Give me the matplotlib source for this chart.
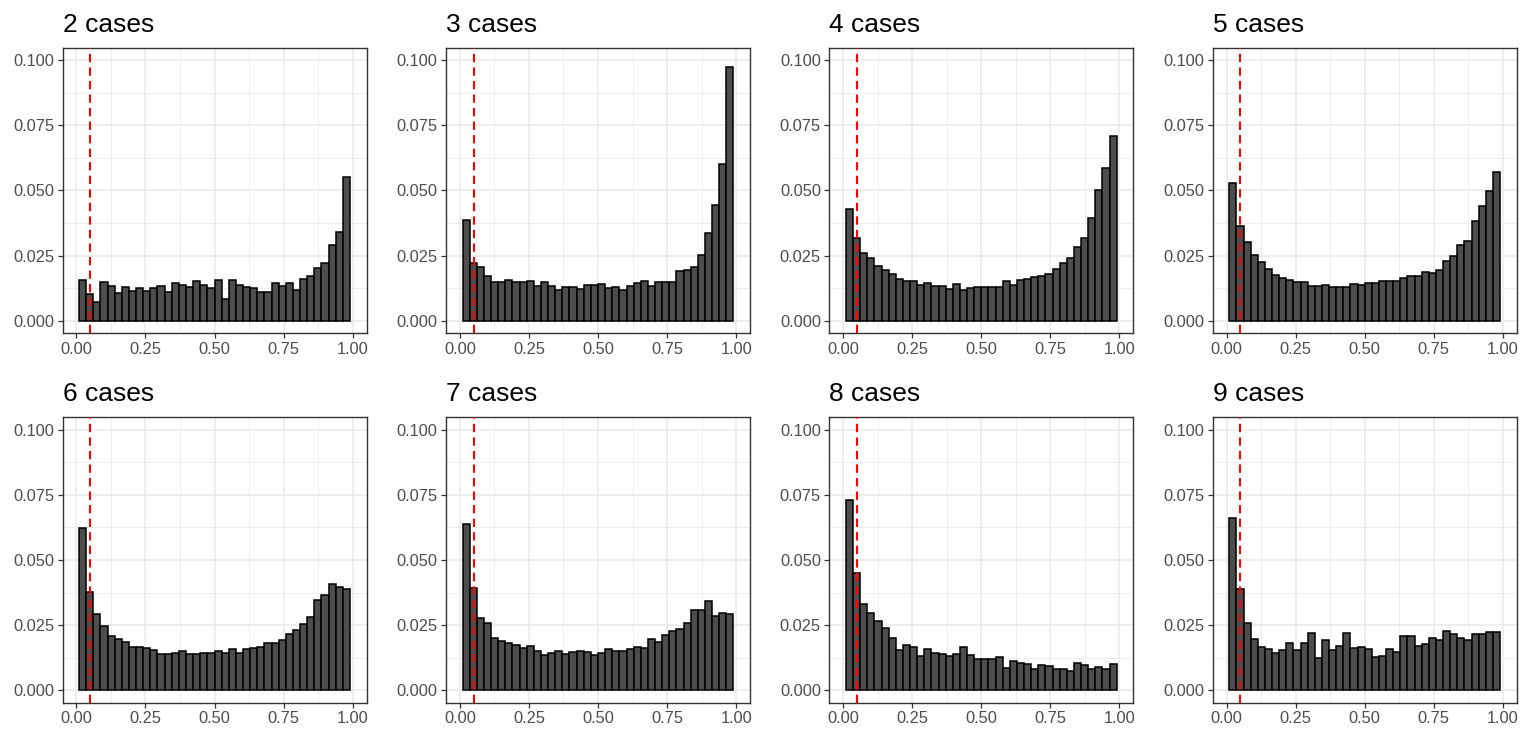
import numpy as np
import matplotlib
matplotlib.use("Agg")
import matplotlib.pyplot as plt

plt.rcParams['font.family'] = ['Liberation Sans', 'DejaVu Sans']

# proportions per bin (38 bins from 0.01 to 0.99)
cases_2 = [15.7, 10.2, 7.3, 14.8, 13.5, 10.6, 13.1, 11.5, 12.4, 11.5, 12.4, 13.5, 11.1,
           14.4, 13.6, 13.1, 15.3, 13.6, 12.4, 15.7, 8.5, 15.7, 13.6, 13.1, 12.4, 11.1,
           11.1, 14.4, 13.5, 14.4, 11.9, 16.1, 17.3, 20.3, 22.3, 29.1, 34.1, 55.1]
cases_3 = [38.8, 22.2, 20.7, 17.1, 14.9, 14.9, 15.7, 14.7, 14.7, 15.3, 13.3, 14.9, 13.3,
           11.9, 13.0, 12.9, 12.2, 13.6, 13.6, 14.0, 12.6, 13.0, 11.7, 13.4, 14.3, 15.3,
           13.4, 14.7, 14.8, 14.8, 19.1, 19.3, 20.5, 25.1, 33.5, 44.4, 60.3, 97.4]
cases_4 = [43.0, 31.9, 26.1, 23.9, 21.0, 19.5, 17.9, 15.9, 15.4, 15.4, 13.6, 14.3, 13.3,
           13.3, 12.0, 14.0, 11.9, 12.5, 12.9, 12.8, 12.8, 13.1, 15.3, 13.6, 15.6, 15.9,
           16.6, 17.1, 18.1, 19.8, 22.1, 24.0, 28.2, 31.9, 39.5, 50.0, 58.5, 71.0]
cases_5 = [52.8, 36.2, 30.4, 25.1, 22.4, 19.9, 17.7, 16.3, 15.6, 14.9, 14.9, 13.3, 13.3,
           13.6, 13.1, 13.1, 13.1, 13.9, 13.8, 14.3, 14.3, 15.2, 15.2, 15.2, 16.5, 17.1,
           17.1, 18.6, 18.5, 19.6, 23.0, 25.0, 29.0, 30.7, 38.3, 44.0, 49.7, 57.0]
cases_6 = [62.2, 37.8, 29.3, 24.7, 20.9, 19.6, 18.4, 16.7, 16.8, 16.2, 15.3, 13.8, 14.0,
           14.3, 15.1, 14.0, 13.8, 14.5, 14.5, 15.1, 14.3, 15.9, 14.4, 15.7, 16.1, 16.5,
           18.0, 18.0, 19.5, 21.7, 23.2, 25.5, 28.2, 34.6, 36.4, 40.7, 39.5, 39.0]
cases_7 = [63.9, 39.2, 27.7, 25.9, 19.9, 19.1, 18.1, 17.2, 16.2, 17.0, 15.1, 13.5, 14.4,
           14.9, 13.8, 14.7, 15.2, 14.8, 13.5, 14.2, 15.7, 15.2, 14.9, 15.7, 16.8, 16.2,
           19.6, 18.5, 21.2, 22.6, 23.7, 25.8, 30.9, 30.7, 34.1, 28.6, 29.5, 29.1]
cases_8 = [73.1, 45.2, 33.3, 29.8, 26.7, 24.1, 19.9, 15.4, 17.2, 16.5, 13.3, 15.8, 14.5,
           14.0, 13.3, 14.0, 16.5, 13.4, 12.1, 12.1, 12.2, 12.9, 8.7, 11.4, 10.3, 10.2,
           8.0, 9.6, 9.4, 8.0, 8.0, 7.5, 10.6, 9.6, 8.0, 8.8, 8.0, 10.1]
cases_9 = [66.1, 38.8, 25.9, 19.6, 16.7, 15.8, 14.5, 15.4, 18.2, 15.3, 18.2, 22.1, 12.5,
           19.5, 15.3, 17.0, 22.1, 16.2, 16.7, 15.8, 12.8, 13.3, 15.8, 14.8, 20.8, 20.8,
           17.0, 17.9, 19.9, 19.5, 22.6, 21.6, 20.0, 19.4, 21.6, 21.6, 22.4, 22.4]

panels = [("2 cases", cases_2), ("3 cases", cases_3), ("4 cases", cases_4), ("5 cases", cases_5),
          ("6 cases", cases_6), ("7 cases", cases_7), ("8 cases", cases_8), ("9 cases", cases_9)]

n_bins = 38
edges = np.linspace(0.01, 0.99, n_bins + 1)
threshold = 0.05

W, H = 1531, 730
fig = plt.figure(figsize=(W / 100, H / 100), dpi=100)

lefts = [62.5, 446, 829.3, 1212.7]
tops = [47.7, 417.3]
ax_w, ax_h = 304, 285.5

for i, (title, vals) in enumerate(panels):
    r, c = divmod(i, 4)
    ax = fig.add_axes([lefts[c] / W, 1 - (tops[r] + ax_h) / H, ax_w / W, ax_h / H])
    heights = np.array(vals) / 1000
    ax.bar(edges[:-1], heights, width=np.diff(edges), align='edge',
           color='#4D4D4D', edgecolor='black', linewidth=1.1, zorder=3)
    ax.axvline(threshold, color='red', linestyle=(0, (4, 2.5)), linewidth=1.5, zorder=4)

    ax.set_xlim(-0.05, 1.05)
    ax.set_ylim(-0.0048, 0.1048)
    ax.set_xticks([0, 0.25, 0.5, 0.75, 1.0])
    ax.set_xticklabels(['0.00', '0.25', '0.50', '0.75', '1.00'])
    ax.set_yticks([0, 0.025, 0.05, 0.075, 0.1])
    ax.set_yticklabels(['0.000', '0.025', '0.050', '0.075', '0.100'])
    ax.set_xticks([0.125, 0.375, 0.625, 0.875], minor=True)
    ax.set_yticks([0.0125, 0.0375, 0.0625, 0.0875], minor=True)
    ax.grid(which='major', color='#EBEBEB', linewidth=1.2, zorder=0)
    ax.grid(which='minor', color='#EBEBEB', linewidth=0.6, zorder=0)
    ax.set_axisbelow(True)
    ax.tick_params(which='major', length=3.5, width=0.9, color='#333333',
                   labelsize=11.8, labelcolor='#4D4D4D', pad=2.5)
    ax.tick_params(which='minor', length=0)
    for s in ax.spines.values():
        s.set_color('#333333')
        s.set_linewidth(1.0)
    ax.set_title(title, loc='left', fontsize=19, pad=11.5, color='black')

fig.savefig("out.png", dpi=100)
